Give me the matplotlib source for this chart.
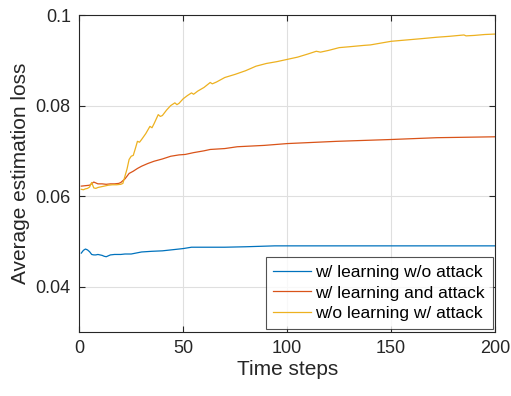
import matplotlib
matplotlib.use("Agg")
import matplotlib.pyplot as plt

plt.rcParams['font.family'] = ['Liberation Sans', 'DejaVu Sans']

# Average estimation loss per time step for each scenario
t_learn = [1, 2, 3, 4, 5, 6, 7, 8, 9, 10, 11, 12, 13, 14, 15, 17, 20, 22, 25, 30,
           35, 40, 46, 50, 54, 60, 70, 80, 94, 100, 120, 140, 160, 180, 200]
loss_learn = [0.0474, 0.0480, 0.0483, 0.0481, 0.0477, 0.0471, 0.0470, 0.0470, 0.0471,
              0.0470, 0.0469, 0.0467, 0.0466, 0.0468, 0.0470, 0.0471, 0.0471, 0.0472,
              0.0472, 0.04765, 0.0478, 0.0479, 0.0482, 0.0484, 0.0487, 0.0487, 0.0487,
              0.0488, 0.0490, 0.0490, 0.0490, 0.0490, 0.0490, 0.0490, 0.0490]

t_learn_attack = [1, 3, 5, 7, 9, 11, 13, 15, 17, 19, 20, 22, 24, 26, 28, 30, 33, 36,
                  40, 44, 48, 51, 55, 60, 63, 70, 76, 89, 100, 124, 150, 172, 200]
loss_learn_attack = [0.0622, 0.0623, 0.0624, 0.0631, 0.0627, 0.0627, 0.0626, 0.0627,
                     0.0627, 0.0628, 0.0630, 0.0638, 0.0650, 0.0655, 0.0661, 0.0666,
                     0.0672, 0.0677, 0.0682, 0.0688, 0.0691, 0.0692, 0.0696, 0.0700,
                     0.0703, 0.0705, 0.0709, 0.0712, 0.0716, 0.0721, 0.0725, 0.0729,
                     0.0731]

t_attack = [1, 2, 3, 4, 5, 6, 7, 8, 9, 10, 12, 14, 16, 18, 20, 21, 22, 23, 24, 25, 26,
            27, 28, 29, 30, 32, 34, 35, 36, 38, 39, 40, 42, 44, 46, 47, 48, 50, 52, 54,
            55, 57, 60, 63, 64, 66, 70, 75, 80, 85, 90, 95, 100, 105, 110, 114, 116,
            120, 125, 130, 137, 140, 145, 150, 155, 160, 165, 172, 178, 185, 186, 190,
            195, 200]
loss_attack = [0.0615, 0.0614, 0.0616, 0.0617, 0.0620, 0.0630, 0.0618, 0.0617, 0.0619,
               0.0620, 0.0622, 0.0624, 0.0625, 0.0625, 0.0626, 0.0628, 0.0644, 0.0660,
               0.0681, 0.0688, 0.0690, 0.0705, 0.0721, 0.0719, 0.0725, 0.0738, 0.0754,
               0.0751, 0.0760, 0.0780, 0.0776, 0.0778, 0.0790, 0.0800, 0.0806, 0.0802,
               0.0805, 0.0815, 0.0822, 0.0828, 0.0825, 0.0832, 0.0840, 0.0851, 0.0848,
               0.0852, 0.0862, 0.0869, 0.0877, 0.0887, 0.0893, 0.0897, 0.0902, 0.0907,
               0.0914, 0.0920, 0.0918, 0.0922, 0.0928, 0.0930, 0.0933, 0.0934, 0.0938,
               0.0942, 0.0944, 0.0946, 0.0948, 0.0951, 0.0953, 0.0956, 0.0954, 0.0955,
               0.0957, 0.0958]

labels = ['w/ learning w/o attack', 'w/ learning and attack', 'w/o learning w/ attack']
colors = ['#0072BD', '#D95319', '#EDB120']
x_ticks = [0, 50, 100, 150, 200]
y_ticks = [0.04, 0.06, 0.08, 0.1]
y_ticklabels = ['0.04', '0.06', '0.08', '0.1']

fig = plt.figure(figsize=(5.11, 3.96), dpi=100)
ax = fig.add_axes([0.155, 0.162, 0.814, 0.800])

for t, v, lab, c in zip([t_learn, t_learn_attack, t_attack],
                        [loss_learn, loss_learn_attack, loss_attack],
                        labels, colors):
    ax.plot(t, v, color=c, lw=0.9, label=lab)

ax.set_xlim(0, 200)
ax.set_ylim(0.03, 0.1)
ax.set_xticks(x_ticks)
ax.set_yticks(y_ticks)
ax.set_yticklabels(y_ticklabels)

ax.grid(True, color='#dfdfdf', lw=0.8)
ax.set_axisbelow(True)
edge = '#262626'
for s in ax.spines.values():
    s.set_color(edge)
    s.set_linewidth(0.8)
ax.tick_params(direction='in', top=True, right=True, length=4, width=0.8,
               colors=edge, labelsize=13, pad=6)

ax.set_xlabel('Time steps', fontsize=15, color=edge, labelpad=2)
ax.set_ylabel('Average estimation loss', fontsize=15, color=edge, labelpad=4)

leg = ax.legend(loc='lower right', fontsize=12.5, frameon=True, fancybox=False,
                handlelength=2.15, handletextpad=0.25, borderpad=0.45,
                labelspacing=0.33, borderaxespad=0.15)
leg.get_frame().set_edgecolor(edge)
leg.get_frame().set_linewidth(0.8)
for txt in leg.get_texts():
    txt.set_color('#000000')

fig.savefig('out.png', dpi=100)
